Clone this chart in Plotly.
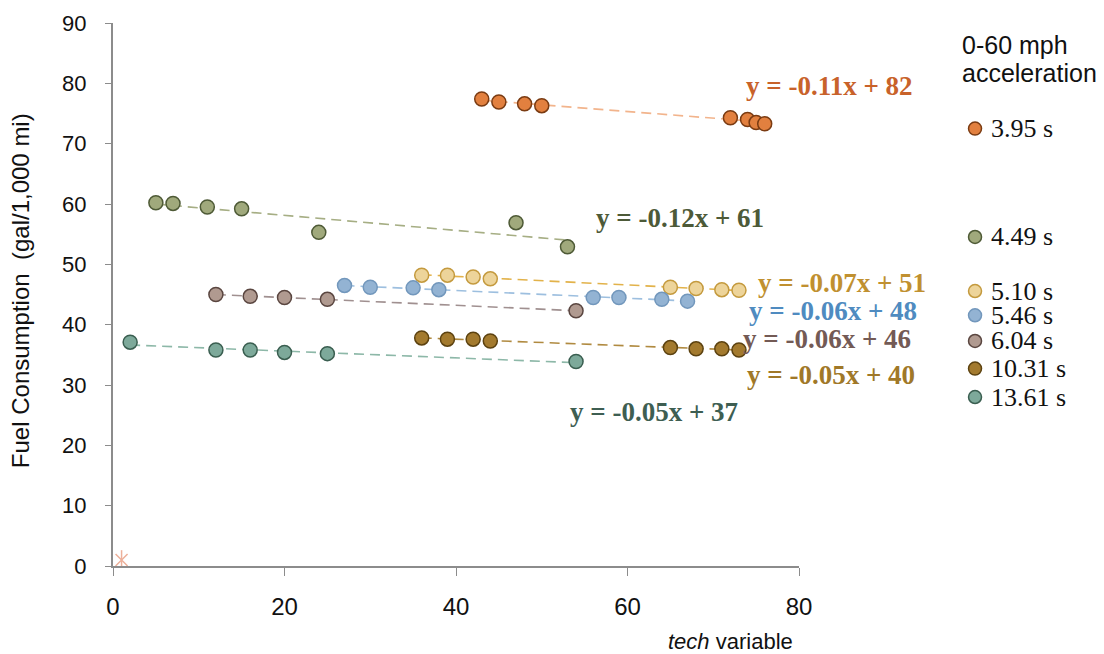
import numpy as np
import plotly.graph_objects as go

# ---------------- data ----------------
series_names = ["3.95 s", "4.49 s", "5.10 s", "5.46 s", "6.04 s", "10.31 s", "13.61 s"]

x_395 = [43, 45, 48, 50, 72, 74, 75, 76]
y_395 = [77.4, 76.9, 76.6, 76.3, 74.3, 74.0, 73.5, 73.3]

x_449 = [5, 7, 11, 15, 24, 47, 53]
y_449 = [60.2, 60.1, 59.5, 59.2, 55.3, 56.9, 52.9]

x_510 = [36, 39, 42, 44, 65, 68, 71, 73]
y_510 = [48.2, 48.2, 47.9, 47.6, 46.2, 46.0, 45.8, 45.7]

x_546 = [27, 30, 35, 38, 56, 59, 64, 67]
y_546 = [46.5, 46.2, 46.1, 45.8, 44.5, 44.5, 44.2, 43.9]

x_604 = [12, 16, 20, 25, 54]
y_604 = [45.0, 44.7, 44.5, 44.2, 42.3]

x_1031 = [36, 39, 42, 44, 65, 68, 71, 73]
y_1031 = [37.8, 37.6, 37.6, 37.3, 36.2, 36.0, 36.0, 35.8]

x_1361 = [2, 12, 16, 20, 25, 54]
y_1361 = [37.1, 35.8, 35.8, 35.4, 35.2, 33.9]

star_x = [1]
star_y = [1]

equations = ["y = -0.11x + 82", "y = -0.12x + 61", "y = -0.07x + 51", "y = -0.06x + 48",
             "y = -0.06x + 46", "y = -0.05x + 40", "y = -0.05x + 37"]

x_ticks = [0, 20, 40, 60, 80]
y_ticks = [0, 10, 20, 30, 40, 50, 60, 70, 80, 90]

legend_title_lines = ["0-60 mph", "acceleration"]

# ---------------- styles ----------------
fills = ["#E2803F", "#A0A97C", "#EDD49A", "#93B3D3", "#B09A90", "#A37A2E", "#7DA99A"]
edges = ["#7A3B12", "#4E5A36", "#C49A3E", "#7297BC", "#5A4640", "#5C4210", "#3A5E50"]
trend_colors = ["#F2B48C", "#A6AE84", "#E2B24A", "#9DBFDF", "#A09090", "#B08A40", "#8DB8A8"]
label_colors = ["#C8622A", "#4D5A38", "#C09030", "#4F8BC0", "#735A55", "#A07828", "#3E5E52"]
label_pos = [(73.6, 79.5), (56.1, 57.6), (75.0, 46.9), (73.9, 42.3),
             (73.2, 37.6), (73.7, 31.6), (53.1, 25.6)]
legend_y = [0.8055, 0.6059, 0.5064, 0.4617, 0.4144, 0.3635, 0.3112]
legend_title_y = [0.959, 0.907]

xs = [x_395, x_449, x_510, x_546, x_604, x_1031, x_1361]
ys = [y_395, y_449, y_510, y_546, y_604, y_1031, y_1361]

fig = go.Figure()

# trend lines (least-squares fits of each series)
for i in range(len(xs)):
    xa = np.array(xs[i], dtype=float)
    ya = np.array(ys[i], dtype=float)
    m, b = np.polyfit(xa, ya, 1)
    xl = [xa.min(), xa.max()]
    yl = [m * v + b for v in xl]
    fig.add_trace(go.Scatter(x=xl, y=yl, mode="lines", showlegend=False, hoverinfo="skip",
                             line=dict(color=trend_colors[i], width=1.6, dash="10px,6px")))

# points
for i in range(len(xs)):
    fig.add_trace(go.Scatter(x=xs[i], y=ys[i], mode="markers", name=series_names[i], showlegend=False,
                             marker=dict(size=14, color=fills[i], line=dict(color=edges[i], width=1.5))))

# star marker near origin
star_col = "#EDB09A"
fig.add_trace(go.Scatter(x=star_x, y=star_y, mode="markers", showlegend=False,
                         marker=dict(symbol="x-thin-open", size=12, color=star_col,
                                     line=dict(color=star_col, width=1.5))))
fig.add_trace(go.Scatter(x=star_x, y=star_y, mode="markers", showlegend=False,
                         marker=dict(symbol="line-ns-open", size=14, color=star_col,
                                     line=dict(color=star_col, width=1.5))))

annotations = []
for i, eq in enumerate(equations):
    annotations.append(dict(x=label_pos[i][0], y=label_pos[i][1], xref="x", yref="y",
                            text="<b>%s</b>" % eq, showarrow=False, xanchor="left", yanchor="middle",
                            font=dict(family="Liberation Serif, Times New Roman, serif", size=27,
                                      color=label_colors[i])))

shapes = []
for i, nm in enumerate(series_names):
    annotations.append(dict(x=1.277, y=legend_y[i], xref="paper", yref="paper", text=nm,
                            showarrow=False, xanchor="left", yanchor="middle",
                            font=dict(family="Liberation Serif, Times New Roman, serif", size=26,
                                      color="#111111")))
    shapes.append(dict(type="circle", xref="paper", yref="paper", xsizemode="pixel", ysizemode="pixel",
                       xanchor=1.2566, yanchor=legend_y[i], x0=-6.5, x1=6.5, y0=-6.5, y1=6.5,
                       fillcolor=fills[i], line=dict(color=edges[i], width=1.5)))

for line_text, ty in zip(legend_title_lines, legend_title_y):
    annotations.append(dict(x=1.2347, y=ty, xref="paper", yref="paper",
                            text=line_text, showarrow=False, xanchor="left", yanchor="middle",
                            font=dict(family="Liberation Sans, Arial, sans-serif", size=25,
                                      color="#111111")))

annotations.append(dict(x=0.994, y=-0.139, xref="paper", yref="paper",
                        text="<i>tech</i> variable", showarrow=False, xanchor="right", yanchor="middle",
                        font=dict(family="Liberation Sans, Arial, sans-serif", size=22, color="#111111")))

annotations.append(dict(x=-0.1356, y=0.508, xref="paper", yref="paper", textangle=-90,
                        text="Fuel Consumption  (gal/1,000 mi)", showarrow=False,
                        xanchor="center", yanchor="middle",
                        font=dict(family="Liberation Sans, Arial, sans-serif", size=24, color="#111111")))

# the page body adds an 8px margin, so the figure is 8px smaller and margins shifted
fig.update_layout(
    width=1096, height=646,
    margin=dict(l=105, r=305, t=15, b=88),
    paper_bgcolor="white", plot_bgcolor="white",
    showlegend=False,
    annotations=annotations,
    shapes=shapes,
    xaxis=dict(range=[0, 80], tickvals=x_ticks, showgrid=False, zeroline=False, automargin=False,
               showline=True, linecolor="#8C8C8C", linewidth=2,
               ticks="outside", ticklen=8, tickcolor="#8C8C8C", tickwidth=1,
               ticklabelstandoff=10,
               tickfont=dict(family="Liberation Sans Narrow, Arial Narrow, Liberation Sans, sans-serif",
                             size=24, color="#111111")),
    yaxis=dict(range=[0, 90], tickvals=y_ticks, showgrid=False, zeroline=False, automargin=False,
               showline=True, linecolor="#8C8C8C", linewidth=2,
               ticks="outside", ticklen=6, tickcolor="#8C8C8C", tickwidth=1,
               ticklabelstandoff=14,
               tickfont=dict(family="Liberation Sans, Arial, sans-serif", size=22, color="#111111")),
)

fig.write_html("out.html")
